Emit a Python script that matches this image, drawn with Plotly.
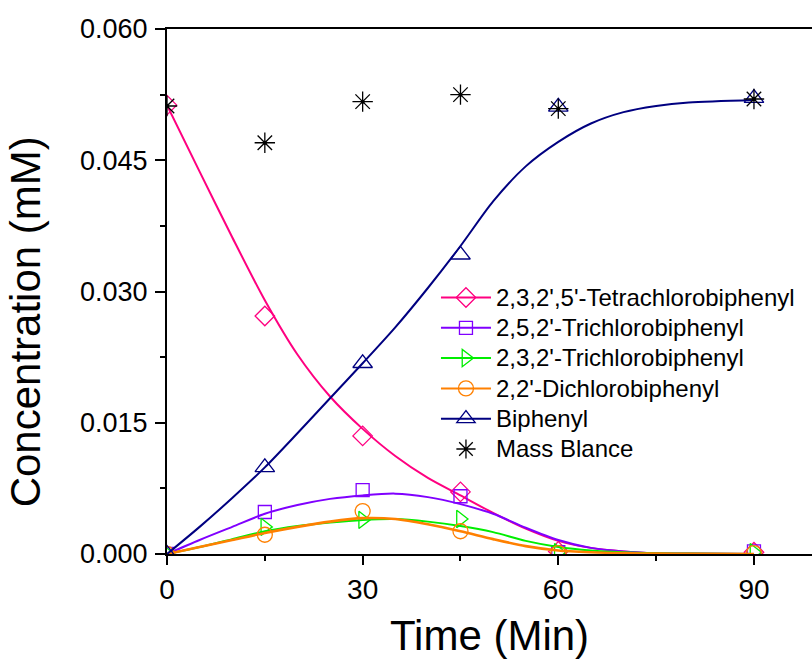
import plotly.graph_objects as go

# ---- measured points ----
times = [0, 15, 30, 45, 60, 90]
tetra = [0.0513, 0.0272, 0.0135, 0.0071, 0.0003, 0.0002]
tri252 = [0.0, 0.0048, 0.0073, 0.0066, 0.0002, 0.0003]
tri232 = [0.0, 0.0031, 0.0039, 0.0040, 0.0002, 0.0002]
dichloro = [0.0, 0.0022, 0.0049, 0.0026, 0.0001, 0.0001]
biphenyl = [0.0, 0.0099, 0.0218, 0.0342, 0.0511, 0.0521]
mass_balance = [0.0512, 0.0470, 0.0517, 0.0525, 0.0509, 0.0520]

# ---- fitted curves ----
curve_t = [0, 5, 10, 15, 20, 25, 30, 35, 40, 45, 50, 55, 60, 65, 70, 75, 80, 90]
tetra_fit = [0.0513, 0.0437, 0.0362, 0.0290, 0.0228, 0.0180, 0.0143, 0.0112, 0.0087,
             0.0067, 0.0047, 0.0029, 0.0015, 0.0007, 0.0003, 0.0001, 0.00003, 0.0]
tri252_fit = [0.0, 0.0016, 0.0031, 0.0046, 0.0056, 0.0063, 0.0067, 0.0069, 0.0065,
              0.0057, 0.0046, 0.0030, 0.0016, 0.0007, 0.0003, 0.0001, 0.00005, 0.0]
tri232_fit = [0.0, 0.0008, 0.0017, 0.0026, 0.0032, 0.0036, 0.0039, 0.0040, 0.0037,
              0.0032, 0.0025, 0.0015, 0.0008, 0.0004, 0.0002, 0.0001, 0.00005, 0.0]
dichloro_fit = [0.0, 0.0008, 0.0016, 0.0024, 0.0031, 0.0037, 0.0041, 0.0040, 0.0034,
                0.0026, 0.0017, 0.0009, 0.0004, 0.0002, 0.0001, 0.00004, 0.00002, 0.0]
biphenyl_fit = [0.0, 0.0031, 0.0064, 0.0099, 0.0138, 0.0178, 0.0218, 0.0259, 0.0304,
                0.0352, 0.0403, 0.0443, 0.0471, 0.0492, 0.0505, 0.0512, 0.0516, 0.0519]

names = ["2,3,2',5'-Tetrachlorobiphenyl", "2,5,2'-Trichlorobiphenyl",
         "2,3,2'-Trichlorobiphenyl", "2,2'-Dichlorobiphenyl", "Biphenyl"]
mass_name = "Mass Blance"
colors = ["#FF0080", "#8000FF", "#00EE00", "#FF8000", "#000080"]
symbols = ["diamond-open", "square-open", "triangle-right-open", "circle-open", "triangle-up-open"]
sizes = [15, 13, 15, 15, 17]
widths = [2, 2, 2, 2.6, 2]
marks = [tetra, tri252, tri232, dichloro, biphenyl]
fits = [tetra_fit, tri252_fit, tri232_fit, dichloro_fit, biphenyl_fit]

LEG = '<span style="font-size:24px">{}</span>'

fig = go.Figure()
for nm, c, s, sz, w, m, f in zip(names, colors, symbols, sizes, widths, marks, fits):
    fig.add_trace(go.Scatter(x=curve_t, y=f, mode="lines",
                             line=dict(color=c, width=w, shape="spline", smoothing=0.8),
                             showlegend=False, hoverinfo="skip"))
    fig.add_trace(go.Scatter(x=times, y=m, mode="markers",
                             marker=dict(symbol=s, size=sz, color=c, line=dict(color=c, width=1.3)),
                             showlegend=False))
    fig.add_trace(go.Scatter(x=[None], y=[None], mode="lines+markers", name=LEG.format(nm),
                             line=dict(color=c, width=2),
                             marker=dict(symbol=s, size=sz, color=c, line=dict(color=c, width=1.3))))

fig.add_trace(go.Scatter(x=times, y=mass_balance, mode="markers", name=LEG.format(mass_name),
                         marker=dict(symbol="asterisk-open", size=17, color="black",
                                     line=dict(color="black", width=1.3))))
fig.add_trace(go.Scatter(x=times, y=mass_balance, mode="markers", showlegend=False,
                         marker=dict(symbol="circle", size=4, color="black")))

font_family = "Liberation Sans, Arial, sans-serif"
fig.update_layout(
    width=812, height=662,
    margin=dict(l=167, r=0, t=29, b=108),
    paper_bgcolor="white", plot_bgcolor="white",
    font=dict(family=font_family, color="black"),
    showlegend=True,
    legend=dict(x=0.417, y=0.527, xanchor="left", yanchor="top",
                font=dict(size=21, family=font_family), bgcolor="rgba(0,0,0,0)",
                tracegroupgap=0, itemwidth=50),
    xaxis=dict(range=[0, 98.9], tickvals=[0, 30, 60, 90], ticks="outside", ticklen=9, tickwidth=2,
               tickcolor="black", showline=True, linecolor="black", linewidth=2, mirror=True,
               showgrid=False, zeroline=False, tickfont=dict(size=28),
               minor=dict(tickvals=[15, 45, 75], ticks="outside", ticklen=5, tickwidth=2, tickcolor="black")),
    yaxis=dict(range=[0, 0.060], tickvals=[0, 0.015, 0.030, 0.045, 0.060], tickformat=".3f",
               ticks="outside", ticklen=10, tickwidth=2, tickcolor="black",
               showline=True, linecolor="black", linewidth=2, showgrid=False, zeroline=False,
               tickfont=dict(size=27), ticklabelstandoff=2,
               minor=dict(tickvals=[0.0075, 0.0225, 0.0375, 0.0525], ticks="outside", ticklen=5,
                          tickwidth=2, tickcolor="black")),
    annotations=[
        dict(text="Time (Min)", x=0.50, y=-0.155, xref="paper", yref="paper",
             xanchor="center", yanchor="middle", showarrow=False, font=dict(size=42)),
        dict(text="Concentration (mM)", x=-0.218, y=0.442, xref="paper", yref="paper",
             xanchor="center", yanchor="middle", textangle=-90, showarrow=False, font=dict(size=42)),
    ],
)

fig.write_html("out.html", config={"displayModeBar": False},
               post_script="document.body.style.margin='0';document.body.style.overflow='hidden';")
